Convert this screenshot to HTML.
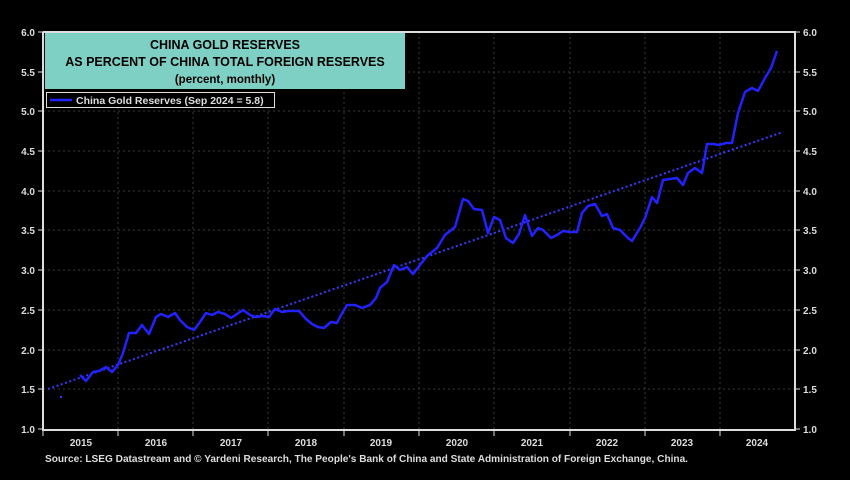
<!DOCTYPE html>
<html><head><meta charset="utf-8"><style>
html,body{margin:0;padding:0;background:#000;width:850px;height:480px;overflow:hidden}
svg{display:block;font-family:"Liberation Sans",Arial,sans-serif;font-weight:bold}
</style></head><body>
<svg width="850" height="480" viewBox="0 0 850 480">
<rect width="850" height="480" fill="#000"/>
<g stroke="#3a3a3a" stroke-width="1" stroke-dasharray="2,3">
<line x1="43" x2="795" y1="72" y2="72"/><line x1="43" x2="795" y1="111" y2="111"/>
<line x1="43" x2="795" y1="151" y2="151"/><line x1="43" x2="795" y1="191" y2="191"/>
<line x1="43" x2="795" y1="230" y2="230"/><line x1="43" x2="795" y1="270" y2="270"/>
<line x1="43" x2="795" y1="310" y2="310"/><line x1="43" x2="795" y1="350" y2="350"/>
<line x1="43" x2="795" y1="389" y2="389"/>
<line x1="118" x2="118" y1="32" y2="429"/><line x1="193" x2="193" y1="32" y2="429"/>
<line x1="268" x2="268" y1="32" y2="429"/><line x1="344" x2="344" y1="32" y2="429"/>
<line x1="419" x2="419" y1="32" y2="429"/><line x1="494" x2="494" y1="32" y2="429"/>
<line x1="570" x2="570" y1="32" y2="429"/><line x1="645" x2="645" y1="32" y2="429"/>
<line x1="720" x2="720" y1="32" y2="429"/>
</g>
<g stroke="#ddd" stroke-width="2" fill="none">
<polyline points="43,32 43,430 795,430 795,32 43,32"/>
</g>
<g stroke="#ddd" stroke-width="1">
<line x1="38" x2="43" y1="32" y2="32"/><line x1="38" x2="43" y1="72" y2="72"/><line x1="38" x2="43" y1="111" y2="111"/><line x1="38" x2="43" y1="151" y2="151"/><line x1="38" x2="43" y1="191" y2="191"/><line x1="38" x2="43" y1="230" y2="230"/><line x1="38" x2="43" y1="270" y2="270"/><line x1="38" x2="43" y1="310" y2="310"/><line x1="38" x2="43" y1="350" y2="350"/><line x1="38" x2="43" y1="389" y2="389"/><line x1="38" x2="43" y1="429" y2="429"/>
<line x1="795" x2="800" y1="32" y2="32"/><line x1="795" x2="800" y1="72" y2="72"/><line x1="795" x2="800" y1="111" y2="111"/><line x1="795" x2="800" y1="151" y2="151"/><line x1="795" x2="800" y1="191" y2="191"/><line x1="795" x2="800" y1="230" y2="230"/><line x1="795" x2="800" y1="270" y2="270"/><line x1="795" x2="800" y1="310" y2="310"/><line x1="795" x2="800" y1="350" y2="350"/><line x1="795" x2="800" y1="389" y2="389"/><line x1="795" x2="800" y1="429" y2="429"/>
<line y1="430" y2="436" x1="43" x2="43"/><line y1="430" y2="436" x1="118" x2="118"/><line y1="430" y2="436" x1="193" x2="193"/><line y1="430" y2="436" x1="268" x2="268"/><line y1="430" y2="436" x1="344" x2="344"/><line y1="430" y2="436" x1="419" x2="419"/><line y1="430" y2="436" x1="494" x2="494"/><line y1="430" y2="436" x1="570" x2="570"/><line y1="430" y2="436" x1="645" x2="645"/><line y1="430" y2="436" x1="720" x2="720"/>
</g>
<g fill="#ddd" font-size="10" text-anchor="end">
<text x="35" y="36">6.0</text><text x="35" y="76">5.5</text><text x="35" y="115">5.0</text><text x="35" y="155">4.5</text><text x="35" y="195">4.0</text><text x="35" y="234">3.5</text><text x="35" y="274">3.0</text><text x="35" y="314">2.5</text><text x="35" y="354">2.0</text><text x="35" y="393">1.5</text><text x="35" y="433">1.0</text>
</g>
<g fill="#ddd" font-size="10">
<text x="803" y="36">6.0</text><text x="803" y="76">5.5</text><text x="803" y="115">5.0</text><text x="803" y="155">4.5</text><text x="803" y="195">4.0</text><text x="803" y="234">3.5</text><text x="803" y="274">3.0</text><text x="803" y="314">2.5</text><text x="803" y="354">2.0</text><text x="803" y="393">1.5</text><text x="803" y="433">1.0</text>
</g>
<g fill="#ddd" font-size="10" text-anchor="middle">
<text x="81" y="446">2015</text><text x="156" y="446">2016</text><text x="231" y="446">2017</text><text x="306" y="446">2018</text><text x="381" y="446">2019</text><text x="457" y="446">2020</text><text x="532" y="446">2021</text><text x="607" y="446">2022</text><text x="682" y="446">2023</text><text x="757" y="446">2024</text>
</g>
<text x="45" y="462" fill="#ddd" font-size="10" textLength="643" lengthAdjust="spacingAndGlyphs">Source: LSEG Datastream and © Yardeni Research, The People's Bank of China and State Administration of Foreign Exchange, China.</text>
<line x1="48" y1="389" x2="783" y2="132" stroke="#3a3aff" stroke-width="2" stroke-dasharray="2,2.5"/>
<rect x="60" y="396" width="2" height="2" fill="#3a3aff"/>
<polyline fill="none" stroke="#2222ff" stroke-width="2.5" stroke-linejoin="round" points="80,375 86,381 93,372 99,371 106,367 112,372 118,365 123,353 129,333 136,333 142,325 149,334 156,317 161,314 168,317 175,313 180,320 187,327 194,330 200,322 206,313 212,315 218,312 225,314 231,318 237,314 243,310 250,315 256,317 263,316 269,317 275,309 282,312 288,311 299,311 306,319 312,324 318,327 324,328 331,322 337,323 340,317 347,305 355,305 362,308 370,305 376,298 380,288 387,282 394,265 400,270 407,267 413,274 420,265 427,256 437,248 445,235 455,227 463,199 468,201 474,209 482,210 488,233 494,217 500,220 506,238 513,243 519,234 525,215 532,236 538,228 543,230 551,238 557,235 563,231 570,232 577,232 582,213 588,206 595,204 602,216 607,214 613,228 620,230 628,238 632,241 640,228 645,218 652,197 657,203 663,180 670,179 677,178 683,185 688,173 695,168 702,173 707,144 713,144 719,145 726,143 732,143 738,113 745,92 752,88 758,91 765,78 771,68 777,51"/>
<rect x="45" y="33" width="360" height="56" fill="#7fd0c4"/>
<g fill="#000" text-anchor="middle">
<text x="225" y="49" font-size="12.5">CHINA GOLD RESERVES</text>
<text x="225" y="66" font-size="12.5">AS PERCENT OF CHINA TOTAL FOREIGN RESERVES</text>
<text x="225" y="83" font-size="11.5">(percent, monthly)</text>
</g>
<rect x="46.5" y="92.5" width="228" height="15" fill="#000" stroke="#ddd" stroke-width="1"/>
<line x1="50" x2="72" y1="100" y2="100" stroke="#2222ff" stroke-width="2.5"/>
<text x="76" y="104" fill="#ddd" font-size="10.5">China Gold Reserves (Sep 2024 = 5.8)</text>
</svg>
</body></html>
